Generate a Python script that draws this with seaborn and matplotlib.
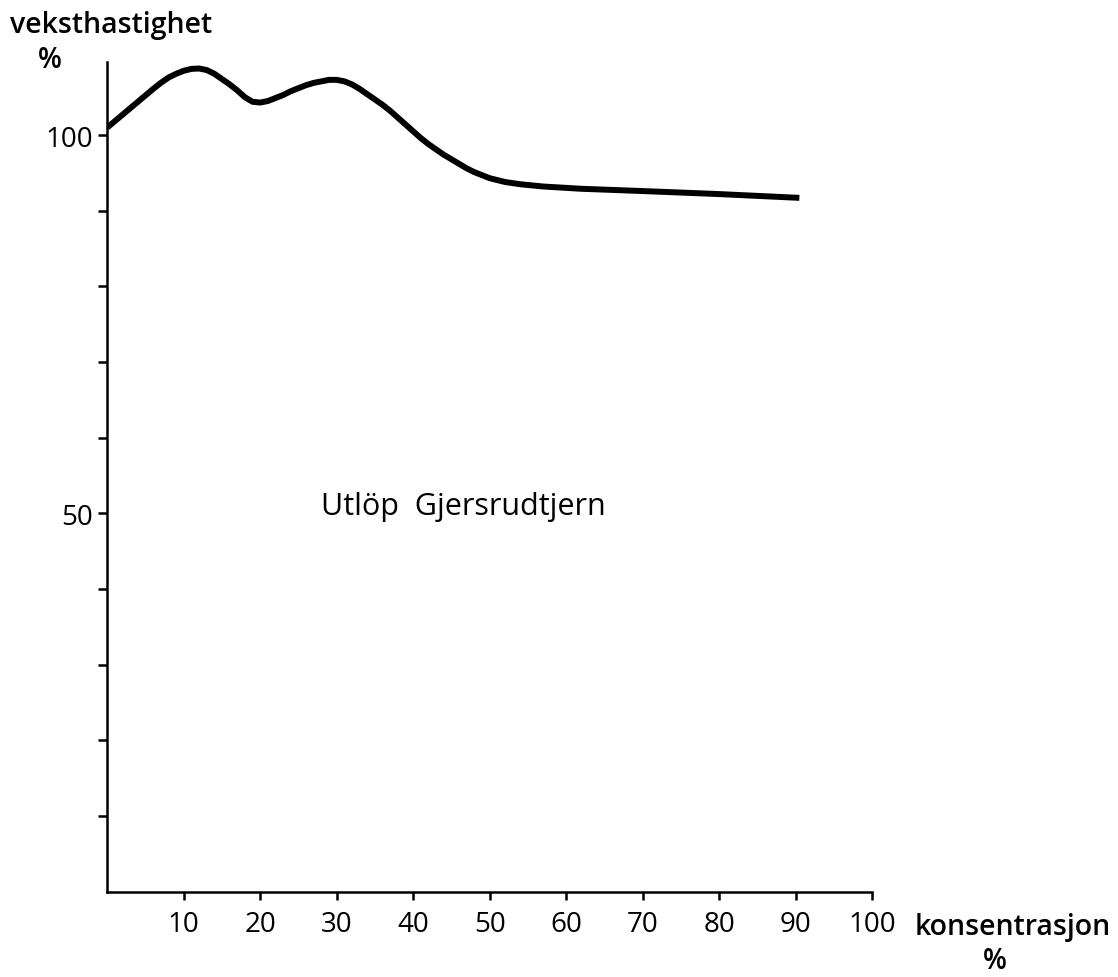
import matplotlib
matplotlib.use("Agg")
import matplotlib.pyplot as plt
import seaborn as sns
import pandas as pd

# Data
konsentrasjon = [0, 2, 4, 6, 7, 8, 9, 10, 11, 12, 13, 14, 15, 16, 17, 18, 19, 20,
                 21, 22, 23, 24, 25, 26, 27, 28, 29, 30, 31, 32, 33, 34, 35, 36,
                 37, 38, 39, 40, 41, 42, 43, 44, 45, 46, 47, 48, 49, 50, 52, 54,
                 57, 62, 70, 80, 90.5]
veksthastighet = [101.0, 102.7, 104.4, 106.1, 106.9, 107.6, 108.1, 108.5, 108.75,
                  108.8, 108.6, 108.1, 107.4, 106.7, 105.9, 105.0, 104.4, 104.3,
                  104.5, 104.9, 105.3, 105.8, 106.2, 106.6, 106.9, 107.1, 107.3,
                  107.3, 107.1, 106.7, 106.1, 105.4, 104.7, 104.0, 103.2, 102.3,
                  101.4, 100.5, 99.6, 98.8, 98.1, 97.4, 96.8, 96.2, 95.6, 95.1,
                  94.7, 94.3, 93.8, 93.5, 93.2, 92.9, 92.6, 92.2, 91.7]
x_ticks = [10, 20, 30, 40, 50, 60, 70, 80, 90, 100]
y_ticks = [10, 20, 30, 40, 50, 60, 70, 80, 90, 100]
y_ticklabels = ["", "", "", "", "50", "", "", "", "", "100"]
label_text = "Utlöp  Gjersrudtjern"

df = pd.DataFrame({"konsentrasjon": konsentrasjon, "veksthastighet": veksthastighet})

sns.set_theme(style="white")
plt.rcParams["font.family"] = ["Open Sans", "DejaVu Sans"]

W, H = 1118, 978
fig = plt.figure(figsize=(W / 100, H / 100), dpi=100)
ax = fig.add_axes([107.3 / W, 85.5 / H, (872 - 107.3) / W, (892.5 - 62.7) / H])

sns.lineplot(data=df, x="konsentrasjon", y="veksthastighet", ax=ax,
             color="black", linewidth=4.3, solid_capstyle="butt",
             solid_joinstyle="round")

ax.set_xlim(0, 100)
ax.set_ylim(0, 109.7)
ax.set_xticks(x_ticks)
ax.set_xticklabels([str(t) for t in x_ticks], fontsize=20, color="black")
ax.set_yticks(y_ticks)
ax.set_yticklabels(y_ticklabels, fontsize=20, color="black")
ax.set_xlabel("")
ax.set_ylabel("")

for s in ["top", "right"]:
    ax.spines[s].set_visible(False)
for s in ["left", "bottom"]:
    ax.spines[s].set_color("black")
    ax.spines[s].set_linewidth(1.8)

ax.tick_params(axis="x", direction="out", length=6, width=1.8, color="black",
               pad=7, bottom=True)
ax.tick_params(axis="y", direction="out", length=6.5, width=1.8, color="black",
               pad=4, left=True)

fig.text(321 / W, 1 - 515 / H, label_text, fontsize=22, ha="left",
         va="baseline", color="black")

fig.text(10 / W, 1 - 33 / H, "veksthastighet", fontsize=20.5, ha="left",
         va="baseline", color="black", fontweight="semibold")
fig.text(50 / W, 1 - 61 / H, "%", fontsize=20, ha="center", va="center",
         color="black", fontweight="semibold")
fig.text(915 / W, 1 - 935 / H, "konsentrasjon", fontsize=20.5, ha="left",
         va="baseline", color="black", fontweight="semibold")
fig.text(995 / W, 1 - 962 / H, "%", fontsize=20, ha="center",
         va="center", color="black", fontweight="semibold")

fig.savefig("out.png", dpi=100, facecolor="white")
